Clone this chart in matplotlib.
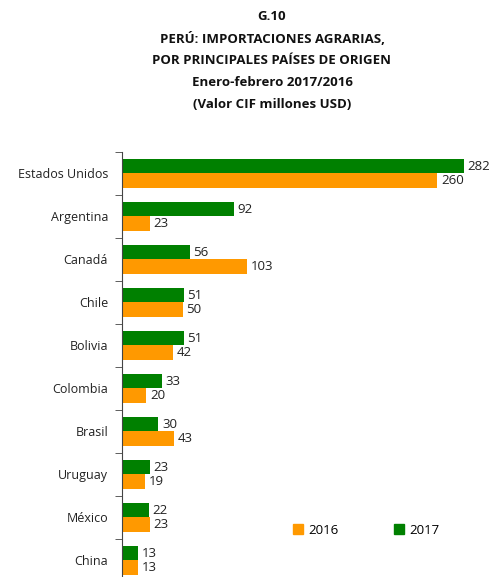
import matplotlib
matplotlib.use("Agg")
import matplotlib.pyplot as plt
from matplotlib.patches import Patch
import numpy as np

plt.rcParams['font.family'] = ['Open Sans', 'DejaVu Sans']

countries = ["Estados Unidos", "Argentina", "Canadá", "Chile", "Bolivia",
             "Colombia", "Brasil", "Uruguay", "México", "China"]
v2016 = [260, 23, 103, 50, 42, 20, 43, 19, 23, 13]
v2017 = [282, 92, 56, 51, 51, 33, 30, 23, 22, 13]
years = ["2016", "2017"]
title_lines = ["G.10", "PERÚ: IMPORTACIONES AGRARIAS,", "POR PRINCIPALES PAÍSES DE ORIGEN",
               "Enero-febrero 2017/2016", "(Valor CIF millones USD)"]

c2016 = "#FF9900"
c2017 = "#008000"

W, H = 492, 577
fig = plt.figure(figsize=(W/100, H/100), dpi=100)
left_px, right_px, top_px, bot_px = 122, 480, 152, 582
ax = fig.add_axes([left_px/W, 1-bot_px/H, (right_px-left_px)/W, (bot_px-top_px)/H])

y = np.arange(len(countries))
bh = 0.326
b17 = ax.barh(y - bh/2, v2017, height=bh, color=c2017, label="2017")
b16 = ax.barh(y + bh/2, v2016, height=bh, color=c2016, label="2016")

for bars, vals in [(b17, v2017), (b16, v2016)]:
    for rect, v in zip(bars, vals):
        ax.text(rect.get_width() + 3, rect.get_y() + rect.get_height()/2, str(v),
                va='center', ha='left', fontsize=9.5, color='#222222')

ax.set_xlim(0, (right_px-left_px)/1.213)
ax.set_ylim(len(countries)-0.5, -0.5)
ax.set_yticks(y)
ax.set_yticklabels(countries, fontsize=9, color='#222222')
ax.set_yticks(np.arange(-0.5, len(countries)), minor=True)
ax.tick_params(axis='y', which='major', length=0, pad=10)
ax.tick_params(axis='y', which='minor', length=5, color='#444444', direction='out')
ax.set_xticks([])
for s in ['top', 'right', 'bottom']:
    ax.spines[s].set_visible(False)
ax.spines['left'].set_color('#444444')

ys = [16, 39, 61, 83, 104]
for t, yy in zip(title_lines, ys):
    fig.text(272/W, 1-yy/H, t, ha='center', va='center', fontsize=9.5, fontweight='bold', color='#111111')

handles = [Patch(color=c2016, label=years[0]), Patch(color=c2017, label=years[1])]
fig.legend(handles=handles, loc='center', bbox_to_anchor=(366/W, 1-530/H), ncol=2,
           frameon=False, handlelength=0.75, handleheight=0.75, handletextpad=0.4,
           columnspacing=4.2, fontsize=9.5)

fig.savefig("out.png", dpi=100)
